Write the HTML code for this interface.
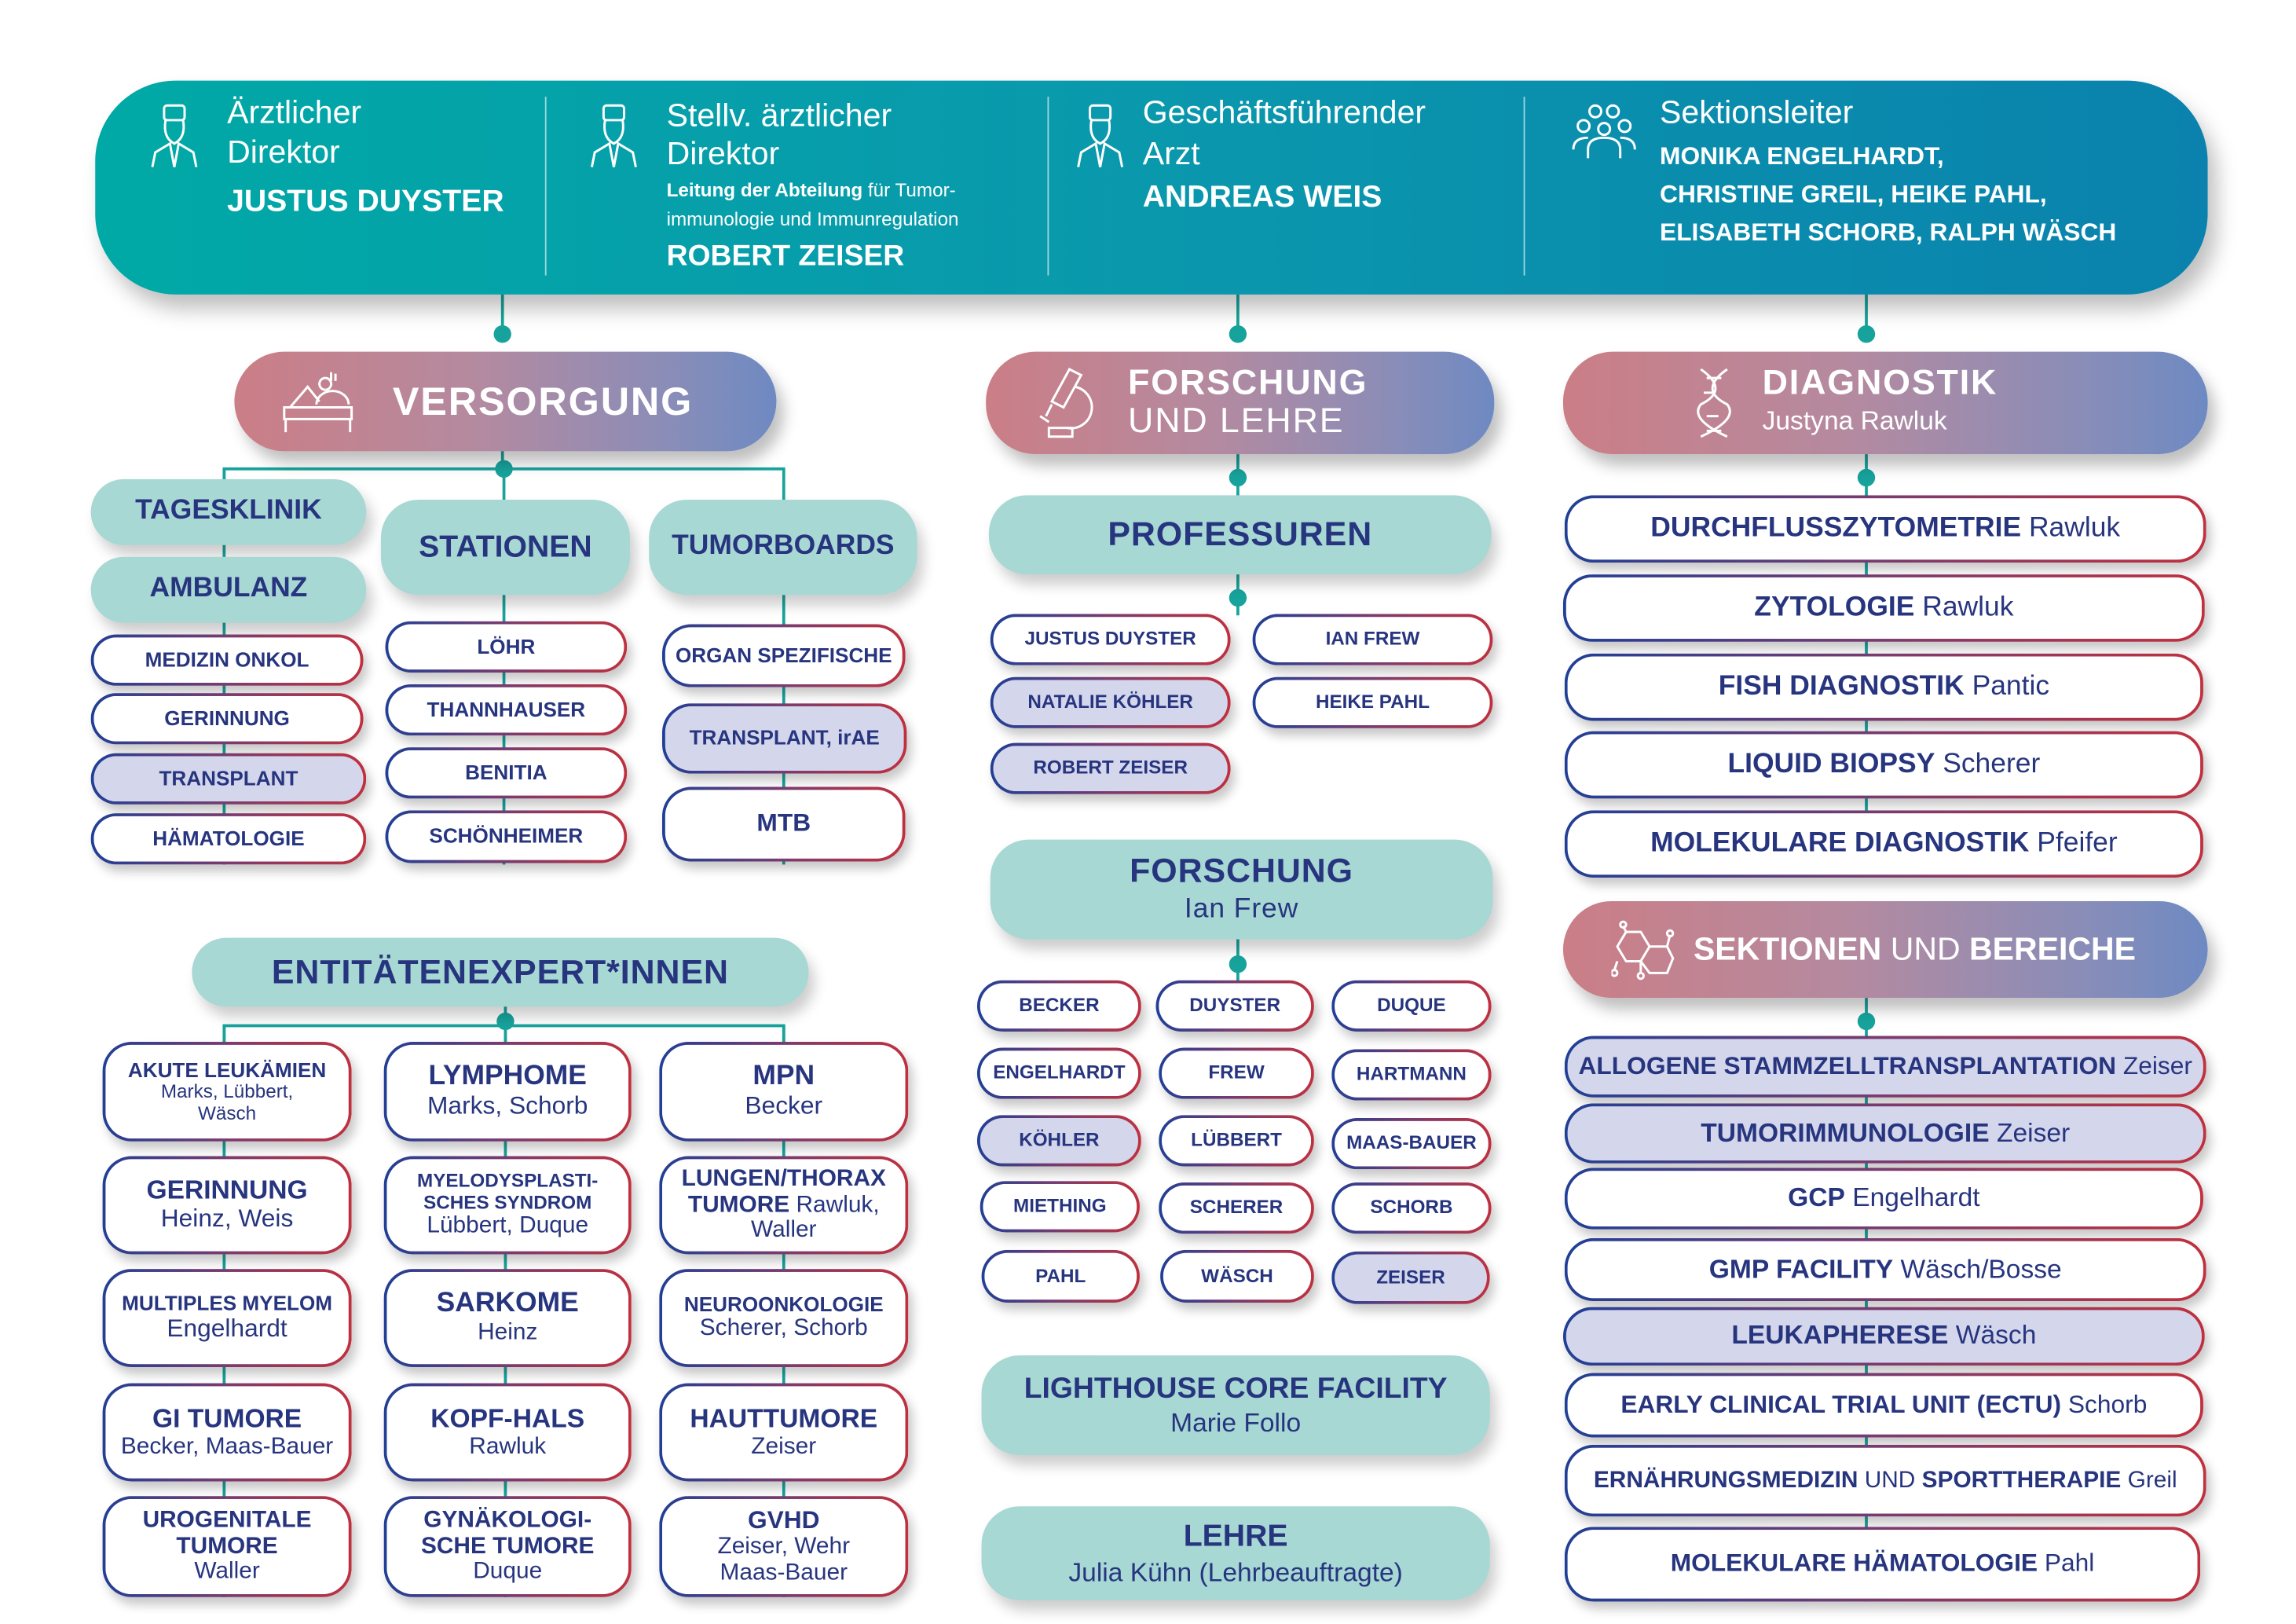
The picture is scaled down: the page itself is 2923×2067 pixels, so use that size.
<!DOCTYPE html>
<html><head><meta charset="utf-8">
<style>
html,body{margin:0;padding:0;background:#fff;}
body{width:2923px;height:2067px;overflow:hidden;position:relative;}
#w{position:absolute;left:0;top:0;width:1568px;height:1108px;transform:scale(1.865);transform-origin:0 0;font-family:"Liberation Sans",sans-serif;color:#27357f;}
#w div{position:absolute;box-sizing:border-box;}
.b{display:flex;align-items:center;justify-content:center;flex-direction:column;text-align:center;border:2px solid transparent;border-radius:20px;
background:linear-gradient(#fff,#fff) padding-box,linear-gradient(90deg,#203f96,#7b3b6e,#c0303e) border-box;box-shadow:3px 5px 7px rgba(0,0,0,.22);font-weight:bold;line-height:1.1;white-space:nowrap;}
.l{background:linear-gradient(#d4d6ec,#d4d6ec) padding-box,linear-gradient(90deg,#203f96,#7b3b6e,#c0303e) border-box;}
.t{display:flex;align-items:center;justify-content:center;flex-direction:column;text-align:center;background:#a7d8d4;border-radius:26px;box-shadow:4px 7px 9px rgba(0,0,0,.2);font-weight:bold;line-height:1.1;white-space:nowrap;}
.g{background:linear-gradient(90deg,#cb7e86,#b48aa0 45%,#8a8db8 80%,#6e8ac2);border-radius:34px;box-shadow:5px 8px 10px rgba(0,0,0,.25);color:#fff;}
.n{font-weight:normal;}
.hd{color:#fff;white-space:nowrap;line-height:1.15;}
</style></head><body>
<div id="w">
<svg width="1568" height="1108" style="position:absolute;left:0;top:0" stroke="#17a39c" stroke-width="2" fill="none">
<line x1="343" y1="200" x2="343" y2="227"/><line x1="845" y1="200" x2="845" y2="227"/><line x1="1274" y1="200" x2="1274" y2="227"/>
<line x1="343" y1="300" x2="343" y2="320"/>
<polyline points="153,340 153,320 535,320 535,345"/><line x1="344" y1="320" x2="344" y2="345"/>
<line x1="153" y1="320" x2="153" y2="590"/><line x1="344" y1="400" x2="344" y2="590"/><line x1="535" y1="400" x2="535" y2="590"/>
<line x1="345" y1="685" x2="345" y2="700"/>
<polyline points="153,715 153,700 535,700 535,715"/><line x1="345" y1="700" x2="345" y2="715"/>
<line x1="153" y1="700" x2="153" y2="1090"/><line x1="345" y1="700" x2="345" y2="1090"/><line x1="535" y1="700" x2="535" y2="1090"/>
<line x1="845" y1="305" x2="845" y2="420"/><line x1="845" y1="635" x2="845" y2="670"/>
<line x1="1274" y1="305" x2="1274" y2="598"/><line x1="1274" y1="675" x2="1274" y2="1093"/>
<g fill="#17a39c" stroke="none">
<circle cx="343" cy="228" r="6"/><circle cx="845" cy="228" r="6"/><circle cx="1274" cy="228" r="6"/>
<circle cx="344" cy="320" r="6"/><circle cx="345" cy="697" r="6"/><circle cx="845" cy="326" r="6"/><circle cx="845" cy="408" r="6"/>
<circle cx="845" cy="658" r="6"/><circle cx="1274" cy="326" r="6"/><circle cx="1274" cy="697" r="6"/></g>
</svg>

<div style="left:65px;top:55px;width:1442px;height:146px;border-radius:55px;background:linear-gradient(90deg,#00a9a6,#0a98ad 50%,#0a82ad);box-shadow:6px 10px 14px rgba(0,0,0,.25);"></div>
<div style="left:372px;top:66px;width:1px;height:122px;background:rgba(255,255,255,.6)"></div>
<div style="left:715px;top:66px;width:1px;height:122px;background:rgba(255,255,255,.6)"></div>
<div style="left:1040px;top:66px;width:1px;height:122px;background:rgba(255,255,255,.6)"></div>
<svg style="position:absolute;left:100px;top:70px" width="40" height="48" stroke="#fff" stroke-width="1.6" fill="none"><rect x="12" y="2" width="14" height="10" rx="2"/><path d="M13 12 q-2 12 6 16 q8-4 6-16"/><path d="M4 44 l2-10 l10-6 l3 16 l3-16 l10 6 l2 10"/></svg>
<svg style="position:absolute;left:400px;top:70px" width="40" height="48" stroke="#fff" stroke-width="1.6" fill="none"><rect x="12" y="2" width="14" height="10" rx="2"/><path d="M13 12 q-2 12 6 16 q8-4 6-16"/><path d="M4 44 l2-10 l10-6 l3 16 l3-16 l10 6 l2 10"/></svg>
<svg style="position:absolute;left:732px;top:70px" width="40" height="48" stroke="#fff" stroke-width="1.6" fill="none"><rect x="12" y="2" width="14" height="10" rx="2"/><path d="M13 12 q-2 12 6 16 q8-4 6-16"/><path d="M4 44 l2-10 l10-6 l3 16 l3-16 l10 6 l2 10"/></svg>
<svg style="position:absolute;left:1072px;top:70px" width="46" height="40" stroke="#fff" stroke-width="1.6" fill="none"><circle cx="17" cy="6" r="4"/><circle cx="29" cy="6" r="4"/><circle cx="9" cy="16" r="4"/><circle cx="23" cy="18" r="4"/><circle cx="37" cy="16" r="4"/><path d="M2 32 q0-8 10-8 M44 32 q0-8 -10-8 M12 38 v-6 q0-8 11-8 q11 0 11 8 v6"/></svg>
<div class="hd" style="left:155px;top:64px;font-size:22px;font-weight:300">Ärztlicher</div>
<div class="hd" style="left:155px;top:91px;font-size:22px">Direktor</div>
<div class="hd" style="left:155px;top:126px;font-size:21px;font-weight:bold">JUSTUS DUYSTER</div>
<div class="hd" style="left:455px;top:66px;font-size:22px">Stellv. ärztlicher</div>
<div class="hd" style="left:455px;top:92px;font-size:22px">Direktor</div>
<div class="hd" style="left:455px;top:123px;font-size:13px"><b>Leitung der Abteilung</b> für Tumor-</div>
<div class="hd" style="left:455px;top:143px;font-size:13px">immunologie und Immunregulation</div>
<div class="hd" style="left:455px;top:164px;font-size:20px;font-weight:bold">ROBERT ZEISER</div>
<div class="hd" style="left:780px;top:64px;font-size:22px">Geschäftsführender</div>
<div class="hd" style="left:780px;top:92px;font-size:22px">Arzt</div>
<div class="hd" style="left:780px;top:123px;font-size:21px;font-weight:bold">ANDREAS WEIS</div>
<div class="hd" style="left:1133px;top:64px;font-size:22px">Sektionsleiter</div>
<div class="hd" style="left:1133px;top:97px;font-size:17px;font-weight:bold">MONIKA ENGELHARDT,</div>
<div class="hd" style="left:1133px;top:123px;font-size:17px;font-weight:bold">CHRISTINE GREIL, HEIKE PAHL,</div>
<div class="hd" style="left:1133px;top:149px;font-size:17px;font-weight:bold">ELISABETH SCHORB, RALPH WÄSCH</div>

<div class="g" style="left:160px;top:240px;width:370px;height:68px;"></div>
<svg style="position:absolute;left:192px;top:252px" width="52" height="44" stroke="#fff" stroke-width="1.6" fill="none"><rect x="2" y="26" width="46" height="8"/><path d="M3 34v9 M47 34v9 M6 26 l12-14 l8 10 M24 24 a6 5 0 0 1 22 0 M30 14 a4 4 0 1 1 0.1 0 M34 2 v6 M37 3 v5"/></svg>
<div class="hd" style="left:268px;top:259px;font-size:27px;font-weight:bold;letter-spacing:1px">VERSORGUNG</div>

<div class="t" style="left:62px;top:327px;width:188px;height:45px;font-size:19px">TAGESKLINIK</div>
<div class="t" style="left:62px;top:380px;width:188px;height:45px;font-size:19px">AMBULANZ</div>
<div class="t" style="left:260px;top:341px;width:170px;height:65px;font-size:21px">STATIONEN</div>
<div class="t" style="left:443px;top:341px;width:183px;height:65px;font-size:19px">TUMORBOARDS</div>

<div class="b" style="left:62px;top:433px;width:186px;height:35px;font-size:14px">MEDIZIN ONKOL</div>
<div class="b" style="left:62px;top:473px;width:186px;height:35px;font-size:14px">GERINNUNG</div>
<div class="b l" style="left:62px;top:514px;width:188px;height:35px;font-size:14px">TRANSPLANT</div>
<div class="b" style="left:62px;top:555px;width:188px;height:35px;font-size:14px">HÄMATOLOGIE</div>
<div class="b" style="left:263px;top:424px;width:165px;height:35px;font-size:14px">LÖHR</div>
<div class="b" style="left:263px;top:467px;width:165px;height:35px;font-size:14px">THANNHAUSER</div>
<div class="b" style="left:263px;top:510px;width:165px;height:35px;font-size:14px">BENITIA</div>
<div class="b" style="left:263px;top:553px;width:165px;height:36px;font-size:14px">SCHÖNHEIMER</div>
<div class="b" style="left:452px;top:426px;width:166px;height:43px;font-size:14px">ORGAN SPEZIFISCHE</div>
<div class="b l" style="left:452px;top:480px;width:167px;height:48px;font-size:14px">TRANSPLANT, irAE</div>
<div class="b" style="left:452px;top:537px;width:166px;height:51px;font-size:17px">MTB</div>

<div class="t" style="left:131px;top:640px;width:421px;height:47px;font-size:23px;letter-spacing:.5px">ENTITÄTENEXPERT*INNEN</div>
<div class="b" style="left:70px;top:711px;width:170px;height:68px;font-size:14px">AKUTE LEUKÄMIEN<span class="n" style="font-size:13px">Marks, Lübbert,<br>Wäsch</span></div>
<div class="b" style="left:262px;top:711px;width:169px;height:68px;font-size:19px">LYMPHOME<span class="n" style="font-size:17px">Marks, Schorb</span></div>
<div class="b" style="left:450px;top:711px;width:170px;height:68px;font-size:19px">MPN<span class="n" style="font-size:17px">Becker</span></div>
<div class="b" style="left:70px;top:789px;width:170px;height:67px;font-size:18px">GERINNUNG<span class="n" style="font-size:17px">Heinz, Weis</span></div>
<div class="b" style="left:262px;top:789px;width:169px;height:67px;font-size:13px">MYELODYSPLASTI-<br>SCHES SYNDROM<span class="n" style="font-size:16px">Lübbert, Duque</span></div>
<div class="b" style="left:450px;top:789px;width:170px;height:67px;font-size:16px">LUNGEN/THORAX<span>TUMORE <span class="n">Rawluk,</span></span><span class="n">Waller</span></div>
<div class="b" style="left:70px;top:866px;width:170px;height:67px;font-size:14px">MULTIPLES MYELOM<span class="n" style="font-size:17px">Engelhardt</span></div>
<div class="b" style="left:262px;top:866px;width:169px;height:67px;font-size:19px">SARKOME<span class="n" style="font-size:16px">Heinz</span></div>
<div class="b" style="left:450px;top:866px;width:170px;height:67px;font-size:14px">NEUROONKOLOGIE<span class="n" style="font-size:16px">Scherer, Schorb</span></div>
<div class="b" style="left:70px;top:944px;width:170px;height:67px;font-size:18px">GI TUMORE<span class="n" style="font-size:16px">Becker, Maas-Bauer</span></div>
<div class="b" style="left:262px;top:944px;width:169px;height:67px;font-size:18px">KOPF-HALS<span class="n" style="font-size:16px">Rawluk</span></div>
<div class="b" style="left:450px;top:944px;width:170px;height:67px;font-size:18px">HAUTTUMORE<span class="n" style="font-size:16px">Zeiser</span></div>
<div class="b" style="left:70px;top:1021px;width:170px;height:69px;font-size:16px">UROGENITALE<br>TUMORE<span class="n">Waller</span></div>
<div class="b" style="left:262px;top:1021px;width:169px;height:69px;font-size:16px">GYNÄKOLOGI-<br>SCHE TUMORE<span class="n">Duque</span></div>
<div class="b" style="left:450px;top:1021px;width:170px;height:69px;font-size:17px">GVHD<span class="n" style="font-size:16px">Zeiser, Wehr<br>Maas-Bauer</span></div>

<div class="g" style="left:673px;top:240px;width:347px;height:70px;"></div>
<svg style="position:absolute;left:704px;top:250px" width="44" height="50" stroke="#fff" stroke-width="1.6" fill="none"><path d="M26 2 l8 4 l-12 22 l-8-4z M14 26 l-4 8 M30 14 a14 14 0 0 1 -6 28 M12 48 h16 v-6 h-16z M6 34 l6 4"/></svg>
<div class="hd" style="left:770px;top:248px;font-size:24px;font-weight:bold;letter-spacing:1px">FORSCHUNG</div>
<div class="hd" style="left:770px;top:274px;font-size:24px;letter-spacing:1px">UND LEHRE</div>
<div class="t" style="left:675px;top:338px;width:343px;height:54px;font-size:23px;letter-spacing:.5px">PROFESSUREN</div>
<div class="b" style="left:676px;top:419px;width:164px;height:35px;font-size:13px">JUSTUS DUYSTER</div>
<div class="b" style="left:855px;top:419px;width:164px;height:35px;font-size:13px">IAN FREW</div>
<div class="b l" style="left:676px;top:462px;width:164px;height:35px;font-size:13px">NATALIE KÖHLER</div>
<div class="b" style="left:855px;top:462px;width:164px;height:35px;font-size:13px">HEIKE PAHL</div>
<div class="b l" style="left:676px;top:507px;width:164px;height:35px;font-size:13px">ROBERT ZEISER</div>
<div class="t" style="left:676px;top:573px;width:343px;height:68px;font-size:23px;letter-spacing:.5px">FORSCHUNG<span class="n" style="font-size:19px;margin-top:3px">Ian Frew</span></div>
<div class="b" style="left:667px;top:669px;width:112px;height:35px;font-size:13px">BECKER</div>
<div class="b" style="left:789px;top:669px;width:108px;height:35px;font-size:13px">DUYSTER</div>
<div class="b" style="left:909px;top:669px;width:109px;height:35px;font-size:13px">DUQUE</div>
<div class="b" style="left:667px;top:715px;width:112px;height:35px;font-size:13px">ENGELHARDT</div>
<div class="b" style="left:791px;top:715px;width:106px;height:35px;font-size:13px">FREW</div>
<div class="b" style="left:909px;top:716px;width:109px;height:35px;font-size:13px">HARTMANN</div>
<div class="b l" style="left:667px;top:761px;width:112px;height:35px;font-size:13px">KÖHLER</div>
<div class="b" style="left:791px;top:761px;width:106px;height:35px;font-size:13px">LÜBBERT</div>
<div class="b" style="left:909px;top:763px;width:109px;height:35px;font-size:13px">MAAS-BAUER</div>
<div class="b" style="left:669px;top:806px;width:109px;height:35px;font-size:13px">MIETHING</div>
<div class="b" style="left:791px;top:807px;width:106px;height:35px;font-size:13px">SCHERER</div>
<div class="b" style="left:909px;top:807px;width:109px;height:35px;font-size:13px">SCHORB</div>
<div class="b" style="left:670px;top:853px;width:108px;height:36px;font-size:13px">PAHL</div>
<div class="b" style="left:792px;top:853px;width:105px;height:36px;font-size:13px">WÄSCH</div>
<div class="b l" style="left:909px;top:854px;width:108px;height:36px;font-size:13px">ZEISER</div>
<div class="t" style="left:670px;top:925px;width:347px;height:68px;font-size:20px">LIGHTHOUSE CORE FACILITY<span class="n" style="font-size:18px;margin-top:3px">Marie Follo</span></div>
<div class="t" style="left:670px;top:1028px;width:347px;height:64px;font-size:21px">LEHRE<span class="n" style="font-size:18px;margin-top:4px">Julia Kühn (Lehrbeauftragte)</span></div>

<div class="g" style="left:1067px;top:240px;width:440px;height:70px;"></div>
<svg style="position:absolute;left:1157px;top:250px" width="28" height="50" stroke="#fff" stroke-width="1.6" fill="none"><path d="M4 2 q20 14 0 24 q-8 10 18 22 M22 2 q-20 14 0 24 q8 10 -18 22 M8 8h10 M6 18h8 M8 34h8 M8 44h10"/></svg>
<div class="hd" style="left:1203px;top:248px;font-size:24px;font-weight:bold;letter-spacing:1px">DIAGNOSTIK</div>
<div class="hd" style="left:1203px;top:277px;font-size:18px">Justyna Rawluk</div>
<div class="b" style="left:1068px;top:338px;width:438px;height:46px;font-size:19px;flex-direction:row">DURCHFLUSSZYTOMETRIE&nbsp;<span class="n">Rawluk</span></div>
<div class="b" style="left:1067px;top:392px;width:438px;height:46px;font-size:19px;flex-direction:row">ZYTOLOGIE&nbsp;<span class="n">Rawluk</span></div>
<div class="b" style="left:1068px;top:446px;width:436px;height:46px;font-size:19px;flex-direction:row">FISH DIAGNOSTIK&nbsp;<span class="n">Pantic</span></div>
<div class="b" style="left:1068px;top:499px;width:436px;height:46px;font-size:19px;flex-direction:row">LIQUID BIOPSY&nbsp;<span class="n">Scherer</span></div>
<div class="b" style="left:1068px;top:553px;width:436px;height:46px;font-size:19px;flex-direction:row">MOLEKULARE DIAGNOSTIK&nbsp;<span class="n">Pfeifer</span></div>

<div class="g" style="left:1067px;top:615px;width:440px;height:66px;"></div>
<svg style="position:absolute;left:1100px;top:628px" width="44" height="42" stroke="#fff" stroke-width="1.6" fill="none"><path d="M10 8 l10 0 l6 10 l-6 10 l-10 0 l-6-10z M26 18 l12 0 l4 8 l-4 10 l-12 0 l-6-8 M8 4 l2 4 M4 28 l-2 6 M38 18 l2-8 M20 28 l0 8"/><circle cx="8" cy="3" r="2"/><circle cx="2" cy="36" r="2"/><circle cx="40" cy="9" r="2"/><circle cx="20" cy="38" r="2"/></svg>
<div class="hd" style="left:1156px;top:635px;font-size:22px;font-weight:bold">SEKTIONEN <span style="font-weight:300">UND</span> BEREICHE</div>

<div class="b l" style="left:1068px;top:707px;width:438px;height:42px;font-size:17px;flex-direction:row">ALLOGENE STAMMZELLTRANSPLANTATION&nbsp;<span class="n">Zeiser</span></div>
<div class="b l" style="left:1068px;top:753px;width:438px;height:41px;font-size:18px;flex-direction:row">TUMORIMMUNOLOGIE&nbsp;<span class="n">Zeiser</span></div>
<div class="b" style="left:1068px;top:797px;width:436px;height:42px;font-size:18px;flex-direction:row">GCP&nbsp;<span class="n">Engelhardt</span></div>
<div class="b" style="left:1068px;top:845px;width:438px;height:43px;font-size:18px;flex-direction:row">GMP FACILITY&nbsp;<span class="n">Wäsch/Bosse</span></div>
<div class="b l" style="left:1067px;top:892px;width:438px;height:40px;font-size:18px;flex-direction:row">LEUKAPHERESE&nbsp;<span class="n">Wäsch</span></div>
<div class="b" style="left:1068px;top:937px;width:436px;height:44px;font-size:17px;flex-direction:row">EARLY CLINICAL TRIAL UNIT (ECTU)&nbsp;<span class="n">Schorb</span></div>
<div class="b" style="left:1068px;top:986px;width:438px;height:49px;font-size:16px;flex-direction:row">ERNÄHRUNGSMEDIZIN&nbsp;<span class="n">UND</span>&nbsp;SPORTTHERAPIE&nbsp;<span class="n">Greil</span></div>
<div class="b" style="left:1068px;top:1042px;width:434px;height:51px;font-size:17px;flex-direction:row">MOLEKULARE HÄMATOLOGIE&nbsp;<span class="n">Pahl</span></div>
</div>
</body></html>
